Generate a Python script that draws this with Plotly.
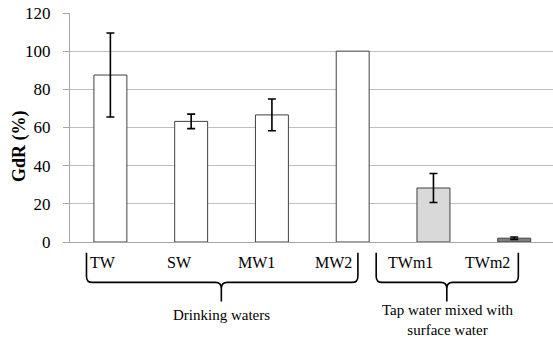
import plotly.graph_objects as go

categories = ["TW", "SW", "MW1", "MW2", "TWm1", "TWm2"]
values = [87.5, 63.2, 66.6, 100.0, 28.3, 2.0]
errors = [22.0, 3.8, 8.3, None, 7.6, 0.6]
bar_colors = ["#ffffff", "#ffffff", "#ffffff", "#ffffff", "#d9d9d9", "#7f7f7f"]
y_ticks = [0, 20, 40, 60, 80, 100, 120]
group_labels = ["Drinking waters", "Tap water mixed with<br>surface water"]

FONT = "Liberation Serif, Times New Roman, DejaVu Serif, serif"

W, H = 553, 341
L, T, B_PX = 69.5, 13.3, 242.3
PW = W - L
PH = B_PX - T


def px2x(px):
    return (px - L) / PW


def px2y(py):
    return (B_PX - py) / PH


fig = go.Figure()
idx_err = [i for i, e in enumerate(errors) if e is not None]
idx_noerr = [i for i, e in enumerate(errors) if e is None]
fig.add_trace(go.Bar(
    x=[categories[i] for i in idx_err], y=[values[i] for i in idx_err],
    marker=dict(color=[bar_colors[i] for i in idx_err],
                line=dict(color="#404040", width=1)),
    error_y=dict(type="data", array=[errors[i] for i in idx_err],
                 visible=True, color="#000000", thickness=1.6, width=4),
    showlegend=False,
))
fig.add_trace(go.Bar(
    x=[categories[i] for i in idx_noerr], y=[values[i] for i in idx_noerr],
    marker=dict(color=[bar_colors[i] for i in idx_noerr],
                line=dict(color="#404040", width=1)),
    showlegend=False,
))

fig.update_layout(
    width=W, height=H,
    margin=dict(l=L, r=0, t=T, b=H - B_PX),
    paper_bgcolor="white", plot_bgcolor="white",
    barmode="overlay",
    bargap=0.592,
    font=dict(family=FONT, size=15, color="#000000"),
    xaxis=dict(range=[-0.5, 5.48], categoryorder="array", categoryarray=categories,
               showticklabels=False, showgrid=False,
               showline=True, linecolor="#a6a6a6", linewidth=1, ticks=""),
    yaxis=dict(range=[0, 120], tickvals=y_ticks, showgrid=True,
               gridcolor="#bfbfbf", gridwidth=1, showline=True,
               linecolor="#a6a6a6", linewidth=1, ticks="outside", ticklen=6,
               tickcolor="#a6a6a6", zeroline=False, ticklabelstandoff=9,
               tickfont=dict(family=FONT, size=17)),
)

# category labels (positioned as in the original figure)
for i, c in enumerate(categories):
    fig.add_annotation(text=c, xref="paper", yref="paper",
                       x=px2x(102.5 + 76.9 * i), y=px2y(263),
                       showarrow=False, xanchor="center", yanchor="middle",
                       font=dict(family=FONT, size=16))


def brace(x0, x1, xm, ytop, ymid, ytip):
    a, b, c = px2x(x0), px2x(x1), px2x(xm)
    yt, ym, yp = px2y(ytop), px2y(ymid), px2y(ytip)
    r = 6
    dx = r / PW
    dy = r / PH
    return (f"M {a},{yt} L {a},{ym + dy} Q {a},{ym} {a + dx},{ym} "
            f"L {c - dx},{ym} Q {c},{ym} {c},{ym - dy} L {c},{yp} "
            f"M {c},{ym - dy} Q {c},{ym} {c + dx},{ym} "
            f"L {b - dx},{ym} Q {b},{ym} {b},{ym + dy} L {b},{yt}")


for (x0, x1, xm) in [(86, 357.7, 221), (376, 518.3, 446.7)]:
    fig.add_shape(type="path", xref="paper", yref="paper",
                  path=brace(x0, x1, xm, 253, 282.7, 301.7),
                  line=dict(color="#000000", width=1.6))

fig.add_annotation(text=group_labels[0], xref="paper", yref="paper",
                   x=px2x(221), y=px2y(315), showarrow=False,
                   xanchor="center", yanchor="middle",
                   font=dict(family=FONT, size=15))
fig.add_annotation(text=group_labels[1], xref="paper", yref="paper",
                   x=px2x(447), y=px2y(320), showarrow=False,
                   xanchor="center", yanchor="middle",
                   font=dict(family=FONT, size=15))

fig.add_annotation(text="<b>GdR (%)</b>", xref="paper", yref="paper",
                   x=px2x(19), y=px2y(146.7), textangle=-90, showarrow=False,
                   xanchor="center", yanchor="middle",
                   font=dict(family=FONT, size=18))

fig.write_html("out.html", config={"displayModeBar": False},
               post_script="document.body.style.margin='0';")
